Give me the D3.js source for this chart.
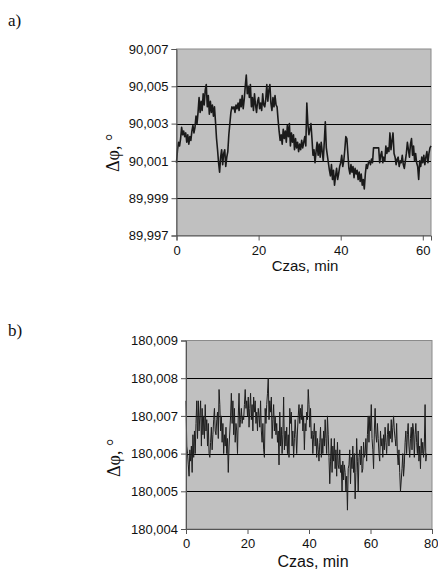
<!DOCTYPE html>
<html><head><meta charset="utf-8">
<script src="https://cdn.jsdelivr.net/npm/d3@7"></script>
<style>
html,body{margin:0;padding:0;background:#fff;}
svg{display:block;}
</style></head>
<body>
<svg id="chart" width="438" height="572"></svg>
<script>
// ---------- DATA ----------
// Panel a) : sampled every 0.25 min, 0 .. 62 min
const stepA = 0.25;
const valuesA = [
90.0009,90.0016,90.0020,90.0018,
90.0022,90.0028,90.0024,90.0026,
90.0023,90.0025,90.0020,90.0024,
90.0019,90.0023,90.0021,90.0026,
90.0029,90.0025,90.0028,90.0034,
90.0030,90.0036,90.0044,90.0036,
90.0042,90.0037,90.0046,90.0040,
90.0048,90.0051,90.0039,90.0045,
90.0035,90.0042,90.0036,90.0040,
90.0034,90.0039,90.0031,90.0022,
90.0016,90.0009,90.0004,90.0012,
90.0016,90.0008,90.0014,90.0016,
90.0007,90.0012,90.0015,90.0024,
90.0030,90.0036,90.0039,90.0038,
90.0039,90.0036,90.0040,90.0038,
90.0041,90.0037,90.0043,90.0039,
90.0045,90.0038,90.0043,90.0050,
90.0056,90.0046,90.0050,90.0044,
90.0051,90.0039,90.0044,90.0037,
90.0046,90.0040,90.0036,90.0042,
90.0044,90.0038,90.0041,90.0037,
90.0046,90.0040,90.0039,90.0043,
90.0051,90.0042,90.0048,90.0051,
90.0041,90.0037,90.0044,90.0039,
90.0045,90.0040,90.0039,90.0032,
90.0026,90.0021,90.0024,90.0019,
90.0027,90.0022,90.0026,90.0020,
90.0029,90.0023,90.0030,90.0018,
90.0025,90.0020,90.0024,90.0016,
90.0022,90.0017,90.0020,90.0015,
90.0019,90.0016,90.0021,90.0017,
90.0020,90.0023,90.0018,90.0041,
90.0030,90.0024,90.0027,90.0030,
90.0022,90.0013,90.0016,90.0009,
90.0015,90.0020,90.0013,90.0019,
90.0012,90.0020,90.0015,90.0010,
90.0020,90.0031,90.0017,90.0013,
90.0009,90.0005,90.0002,90.0008,
90.0000,90.0005,89.9997,90.0002,
90.0006,90.0000,90.0003,90.0007,
90.0009,90.0013,90.0007,90.0010,
90.0016,90.0023,90.0022,90.0014,
90.0006,90.0003,90.0008,90.0004,
90.0007,90.0001,90.0006,90.0003,
90.0005,90.0000,90.0004,89.9999,
90.0003,89.9997,90.0000,89.9995,
90.0003,90.0008,90.0006,90.0009,
90.0010,90.0008,90.0011,90.0009,
90.0017,90.0017,90.0017,90.0017,
90.0017,90.0017,90.0009,90.0013,
90.0015,90.0009,90.0012,90.0010,
90.0018,90.0014,90.0017,90.0015,
90.0025,90.0016,90.0021,90.0025,
90.0014,90.0012,90.0008,90.0011,
90.0012,90.0007,90.0010,90.0009,
90.0013,90.0008,90.0006,90.0010,
90.0014,90.0020,90.0016,90.0012,
90.0019,90.0022,90.0013,90.0018,
90.0010,90.0014,90.0009,90.0007,
90.0000,90.0010,90.0007,90.0012,
90.0009,90.0013,90.0008,90.0012,
90.0015,90.0009,90.0014,90.0017,
90.0018
];
const xTicksA = [0, 20, 40, 60];
const yTicksA = [89.997, 89.999, 90.001, 90.003, 90.005, 90.007];
const xDomainA = [0, 62];

// Panel b) : sampled every 0.25 min, 0 .. 78.25 min
const stepB = 0.25;
const valuesB = [
180.0074,180.0062,180.0060,180.0057,
180.0054,180.0061,180.0058,180.0062,
180.0055,180.0065,180.0059,180.0066,
180.0060,180.0068,180.0074,180.0064,
180.0074,180.0066,180.0070,180.0074,
180.0062,180.0072,180.0065,180.0070,
180.0064,180.0073,180.0066,180.0069,
180.0062,180.0068,180.0060,180.0059,
180.0063,180.0067,180.0061,180.0065,
180.0069,180.0072,180.0066,180.0065,
180.0069,180.0071,180.0064,180.0077,
180.0073,180.0066,180.0070,180.0063,
180.0068,180.0060,180.0065,180.0062,
180.0067,180.0060,180.0064,180.0055,
180.0062,180.0066,180.0070,180.0076,
180.0068,180.0074,180.0065,180.0072,
180.0063,180.0068,180.0066,180.0060,
180.0070,180.0076,180.0067,180.0069,
180.0072,180.0068,180.0070,180.0069,
180.0073,180.0077,180.0072,180.0074,
180.0070,180.0075,180.0067,180.0072,
180.0076,180.0069,180.0073,180.0066,
180.0075,180.0071,180.0074,180.0068,
180.0071,180.0066,180.0072,180.0070,
180.0067,180.0074,180.0066,180.0063,
180.0068,180.0061,180.0059,180.0072,
180.0068,180.0073,180.0076,180.0080,
180.0069,180.0074,180.0071,180.0075,
180.0064,180.0069,180.0073,180.0066,
180.0070,180.0065,180.0068,180.0063,
180.0066,180.0057,180.0071,180.0062,
180.0067,180.0060,180.0065,180.0075,
180.0061,180.0066,180.0062,180.0067,
180.0060,180.0065,180.0059,180.0072,
180.0068,180.0071,180.0062,180.0066,
180.0059,180.0064,180.0069,180.0065,
180.0060,180.0066,180.0070,180.0073,
180.0068,180.0072,180.0069,180.0073,
180.0066,180.0070,180.0061,180.0068,
180.0066,180.0071,180.0069,180.0077,
180.0073,180.0067,180.0072,180.0064,
180.0066,180.0060,180.0065,180.0068,
180.0062,180.0066,180.0059,180.0064,
180.0061,180.0058,180.0063,180.0067,
180.0059,180.0064,180.0060,180.0066,
180.0062,180.0069,180.0064,180.0060,
180.0070,180.0065,180.0059,180.0052,
180.0058,180.0064,180.0055,180.0062,
180.0058,180.0064,180.0056,180.0061,
180.0054,180.0063,180.0057,180.0056,
180.0061,180.0055,180.0057,180.0050,
180.0058,180.0053,180.0057,180.0055,
180.0050,180.0054,180.0045,180.0056,
180.0057,180.0061,180.0052,180.0059,
180.0056,180.0062,180.0055,180.0060,
180.0048,180.0055,180.0064,180.0058,
180.0050,180.0059,180.0061,180.0057,
180.0062,180.0055,180.0056,180.0063,
180.0059,180.0060,180.0064,180.0058,
180.0065,180.0070,180.0063,180.0070,
180.0066,180.0073,180.0064,180.0061,
180.0056,180.0066,180.0072,180.0065,
180.0063,180.0068,180.0064,180.0060,
180.0058,180.0066,180.0062,180.0064,
180.0059,180.0065,180.0061,180.0067,
180.0063,180.0060,180.0065,180.0068,
180.0062,180.0066,180.0064,180.0069,
180.0063,180.0067,180.0070,180.0066,
180.0064,180.0062,180.0068,180.0060,
180.0057,180.0061,180.0055,180.0050,
180.0053,180.0056,180.0060,180.0054,
180.0057,180.0063,180.0066,180.0060,
180.0065,180.0068,180.0062,180.0059,
180.0064,180.0067,180.0061,180.0068,
180.0066,180.0059,180.0065,180.0068,
180.0063,180.0060,180.0066,180.0058,
180.0062,180.0056,180.0064,180.0060,
180.0063,180.0059,180.0062,180.0073,
180.0058,180.0060
];
const xTicksB = [0, 20, 40, 60, 80];
const yTicksB = [180.004, 180.005, 180.006, 180.007, 180.008, 180.009];
const xDomainB = [0, 80];

const panelLabels = ["a)", "b)"];
const xTitle = "Czas, min";
const yTitle = "Δφ, °";

// ---------- DRAW ----------
const svg = d3.select("#chart");
const fmt = v => d3.format(".3f")(v).replace(".", ",");

function panel(cfg) {
  const {values, step, xDomain, xTicks, yTicks, box, xTitleSize, xTitleY, xTitleX, yTitleX, yTitleY} = cfg;
  const x = d3.scaleLinear().domain(xDomain).range([box.x0, box.x1]);
  const y = d3.scaleLinear().domain([yTicks[0], yTicks[yTicks.length-1]]).range([box.y1, box.y0]);
  const g = svg.append("g");
  // plot area
  g.append("rect").attr("x", box.x0).attr("y", box.y0)
    .attr("width", box.x1 - box.x0).attr("height", box.y1 - box.y0)
    .attr("fill", "#c0c0c0").attr("stroke", "#8a8a8a").attr("stroke-width", 1);
  // gridlines
  g.append("g").selectAll("line").data(yTicks.slice(1, -1)).join("line")
    .attr("x1", box.x0).attr("x2", box.x1)
    .attr("y1", d => Math.round(y(d)) + 0.5).attr("y2", d => Math.round(y(d)) + 0.5)
    .attr("stroke", "#000").attr("stroke-width", 1);
  // line
  const line = d3.line().x((d, i) => x(i * step)).y(d => y(d));
  g.append("path").datum(values).attr("d", line)
    .attr("fill", "none").attr("stroke", cfg.lineColor).attr("stroke-width", cfg.lineWidth)
    .attr("stroke-linejoin", "round");
  // axes
  const yAxis = d3.axisLeft(y).tickValues(yTicks).tickFormat(fmt).tickSize(5).tickPadding(3);
  const ya = g.append("g").attr("transform", `translate(${box.x0},0)`).call(yAxis);
  const xAxis = d3.axisBottom(x).tickValues(xTicks).tickFormat(d3.format("d")).tickSize(5).tickPadding(5);
  const xa = g.append("g").attr("transform", `translate(0,${box.y1})`).call(xAxis);
  [ya, xa].forEach(a => {
    a.selectAll("text").attr("font-family", "'Liberation Sans', Arial, sans-serif")
      .attr("font-size", 13).attr("fill", "#111");
    a.selectAll("line").attr("stroke", "#555");
    a.select(".domain").attr("stroke", "#555");
  });
  // keep the last x tick label inside the page
  xa.selectAll(".tick text").filter(d => x(d) + 8 > 438).attr("text-anchor", "end").attr("x", 438 - x(xDomain[1]));
  // titles
  g.append("text").attr("x", xTitleX).attr("y", xTitleY).attr("text-anchor", "middle")
    .attr("font-family", "'Liberation Sans', Arial, sans-serif").attr("font-size", xTitleSize)
    .attr("fill", "#111").text(xTitle);
  g.append("text").attr("transform", `translate(${yTitleX},${yTitleY}) rotate(-90)`)
    .attr("text-anchor", "middle")
    .attr("font-family", "'Liberation Serif', 'Times New Roman', serif").attr("font-size", 18)
    .attr("fill", "#111").text(yTitle);
  g.append("text").attr("x", 8).attr("y", cfg.labelY)
    .attr("font-family", "'Liberation Serif', 'Times New Roman', serif").attr("font-size", 17)
    .attr("fill", "#111").text(cfg.label);
}

panel({values: valuesA, step: stepA, xDomain: xDomainA, xTicks: xTicksA, yTicks: yTicksA,
  box: {x0: 176.5, x1: 431, y0: 49, y1: 235.5}, lineColor: "#1a1a1a", lineWidth: 1.6,
  xTitleSize: 15, xTitleX: 305, xTitleY: 271, yTitleX: 119, yTitleY: 153,
  label: panelLabels[0], labelY: 26});

panel({values: valuesB, step: stepB, xDomain: xDomainB, xTicks: xTicksB, yTicks: yTicksB,
  box: {x0: 186, x1: 432, y0: 340.5, y1: 529}, lineColor: "#1e1e1e", lineWidth: 1,
  xTitleSize: 16, xTitleX: 313, xTitleY: 567, yTitleX: 120, yTitleY: 458,
  label: panelLabels[1], labelY: 336});
</script>
</body></html>
